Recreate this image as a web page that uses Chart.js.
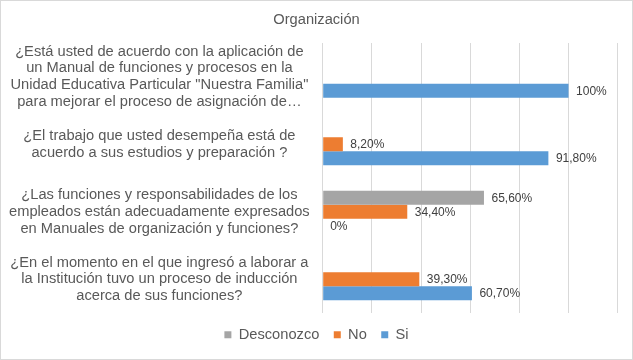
<!DOCTYPE html>
<html>
<head>
<meta charset="utf-8">
<script src="https://cdn.jsdelivr.net/npm/chart.js@4.4.0/dist/chart.umd.min.js"></script>
<style>
  html, body { margin: 0; padding: 0; background: #fff; }
  #wrap { position: relative; width: 633px; height: 360px; }
  #chart { display: block; }
  #frame { position: absolute; left: 0; top: 0; width: 633px; height: 360px; box-sizing: border-box; border: 1px solid #d9d9d9; pointer-events: none; }
</style>
</head>
<body>
<div id="wrap">
  <canvas id="chart" width="633" height="360"></canvas>
  <div id="frame"></div>
</div>
<script>
const chartTitle = "Organización";

const questions = [
  ["¿Está usted de acuerdo con la aplicación de", "un Manual de funciones y procesos en la", "Unidad Educativa Particular \"Nuestra Familia\"", "para mejorar el proceso de asignación de…"],
  ["¿El trabajo que usted desempeña está de", "acuerdo a sus estudios y preparación ?"],
  ["¿Las funciones y responsabilidades de los", "empleados están adecuadamente expresados", "en Manuales de organización y funciones?"],
  ["¿En el momento en el que ingresó a laborar a", "la Institución tuvo un proceso de inducción", "acerca de sus funciones?"]
];

const seriesNames = ["Desconozco", "No", "Si"];
const desconozco = [null, null, 65.6, null];
const no = [null, 8.2, 34.4, 39.3];
const si = [100, 91.8, 0, 60.7];
const seriesColors = ["#a5a5a5", "#ed7d31", "#5b9bd5"];

const xMin = 0;
const xMax = 120;
const xStep = 20;

const FONT = "'Liberation Sans', Arial, sans-serif";
const TEXT = "#595959";

function pct(v) {
  if (Number.isInteger(v)) return v + "%";
  return v.toFixed(2).replace(".", ",") + "%";
}

// value labels to the right of each bar
const valueLabels = {
  id: "valueLabels",
  afterDatasetsDraw(chart) {
    const ctx = chart.ctx;
    ctx.save();
    ctx.font = "12px " + FONT;
    ctx.fillStyle = "#404040";
    ctx.textAlign = "left";
    ctx.textBaseline = "middle";
    chart.data.datasets.forEach((ds, i) => {
      chart.getDatasetMeta(i).data.forEach((bar, j) => {
        const v = ds.data[j];
        if (v === null || v === undefined) return;
        ctx.fillText(pct(v), bar.x + 7.5, bar.y + 0.5);
      });
    });
    ctx.restore();
  }
};

const seriesData = [desconozco, no, si];

new Chart(document.getElementById("chart"), {
  type: "bar",
  data: {
    labels: questions,
    datasets: seriesNames.map((name, i) => ({
      label: name,
      data: seriesData[i],
      backgroundColor: seriesColors[i],
      borderWidth: 0,
      categoryPercentage: 0.622,
      barPercentage: 1
    }))
  },
  options: {
    indexAxis: "y",
    responsive: false,
    animation: false,
    devicePixelRatio: 1,
    layout: { padding: { left: 0, right: 0, top: 0, bottom: 7.9 } },
    scales: {
      x: {
        min: xMin,
        max: xMax,
        ticks: { display: false, stepSize: xStep },
        grid: { color: "#d9d9d9", lineWidth: 1, drawTicks: false },
        border: { display: false }
      },
      y: {
        ticks: {
          color: TEXT,
          crossAlign: "center",
          autoSkip: false,
          padding: 13,
          font: { family: FONT, size: 14.67, lineHeight: 1.14 }
        },
        grid: { display: false, drawTicks: false },
        border: { display: false },
        afterFit(s) {
          s.width = 322.7;
          s.paddingTop = 0;
          s.paddingBottom = 0;
        }
      },
      // empty right margin so the title and legend stay centred on the canvas
      yRight: {
        type: "linear",
        position: "right",
        ticks: { display: false },
        grid: { display: false, drawTicks: false },
        border: { display: false },
        afterFit(s) {
          s.width = 15.3;
          s.paddingTop = 0;
          s.paddingBottom = 0;
        }
      }
    },
    plugins: {
      title: {
        display: true,
        text: chartTitle,
        color: TEXT,
        font: { family: FONT, size: 14.67, weight: "normal" },
        padding: { top: 10.7, bottom: 14.7 }
      },
      legend: {
        position: "bottom",
        labels: {
          color: TEXT,
          boxWidth: 7,
          boxHeight: 7,
          padding: 14.4,
          font: { family: FONT, size: 14.67 }
        }
      },
      tooltip: { enabled: false }
    }
  },
  plugins: [valueLabels]
});
</script>
</body>
</html>
